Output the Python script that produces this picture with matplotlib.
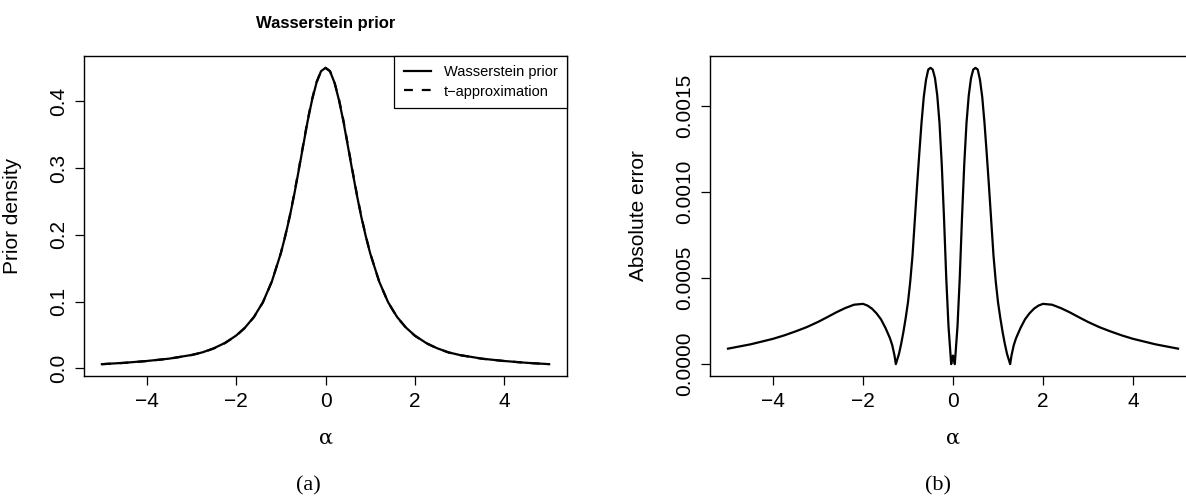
import matplotlib
matplotlib.use("Agg")
import matplotlib.pyplot as plt

# values
alpha_pts = [-5.0, -4.5, -4.0, -3.5, -3.0, -2.75, -2.5, -2.25, -2.0, -1.8, -1.6, -1.4, -1.2,
             -1.0, -0.9, -0.8, -0.7, -0.6, -0.5, -0.4, -0.3, -0.2, -0.1, 0.0,
             0.1, 0.2, 0.3, 0.4, 0.5, 0.6, 0.7, 0.8, 0.9, 1.0,
             1.2, 1.4, 1.6, 1.8, 2.0, 2.25, 2.5, 2.75, 3.0, 3.5, 4.0, 4.5, 5.0]
wasserstein_prior = [0.0063, 0.0083, 0.011, 0.0145, 0.020, 0.024, 0.030, 0.038, 0.049, 0.061, 0.077, 0.099, 0.130,
                     0.172, 0.198, 0.227, 0.260, 0.296, 0.333, 0.370, 0.402, 0.428, 0.445, 0.450,
                     0.445, 0.428, 0.402, 0.370, 0.333, 0.296, 0.260, 0.227, 0.198, 0.172,
                     0.130, 0.099, 0.077, 0.061, 0.049, 0.038, 0.030, 0.024, 0.020, 0.0145, 0.011, 0.0083, 0.0063]
t_approx = [0.0062, 0.0082, 0.0109, 0.0144, 0.0198, 0.0238, 0.0297, 0.0377, 0.0487, 0.0607, 0.0767, 0.0988, 0.1300,
            0.1723, 0.1986, 0.2280, 0.2614, 0.2975, 0.3347, 0.3716, 0.4034, 0.4288, 0.4451, 0.4500,
            0.4451, 0.4288, 0.4034, 0.3716, 0.3347, 0.2975, 0.2614, 0.2280, 0.1986, 0.1723,
            0.1300, 0.0988, 0.0767, 0.0607, 0.0487, 0.0377, 0.0297, 0.0238, 0.0198, 0.0144, 0.0109, 0.0082, 0.0062]

err_alpha = [-5.0, -4.5, -4.0, -3.75, -3.5, -3.25, -3.0, -2.8, -2.6, -2.4, -2.2, -2.0,
             -1.9, -1.8, -1.7, -1.6, -1.5, -1.4, -1.35, -1.3, -1.27,
             -1.2, -1.15, -1.1, -1.05, -1.0, -0.95, -0.9, -0.85, -0.8, -0.75, -0.7, -0.65, -0.6, -0.55, -0.5,
             -0.45, -0.4, -0.35, -0.3, -0.25, -0.2, -0.15, -0.1, -0.04, -0.02, 0.0,
             0.02, 0.04, 0.1, 0.15, 0.2, 0.25, 0.3, 0.35, 0.4, 0.45,
             0.5, 0.55, 0.6, 0.65, 0.7, 0.75, 0.8, 0.85, 0.9, 0.95, 1.0, 1.05, 1.1, 1.15, 1.2,
             1.27, 1.3, 1.35, 1.4, 1.5, 1.6, 1.7, 1.8, 1.9,
             2.0, 2.2, 2.4, 2.6, 2.8, 3.0, 3.25, 3.5, 3.75, 4.0, 4.5, 5.0]
abs_error = [0.00009, 0.000115, 0.000147, 0.000167, 0.00019, 0.000215, 0.000245, 0.000272, 0.0003, 0.000325,
             0.000345, 0.00035,
             0.00034, 0.000322, 0.000295, 0.00026, 0.00021, 0.00015, 0.00011, 0.00005, 0.0,
             0.00006, 0.00012, 0.00019, 0.00027, 0.00036, 0.00048, 0.00063, 0.00083, 0.00103, 0.00122, 0.0014,
             0.00155, 0.00165, 0.00171, 0.00172,
             0.00171, 0.00166, 0.00156, 0.0014, 0.00116, 0.00085, 0.0005, 0.00022, 0.0, 0.00003, 0.00005,
             0.00003, 0.0, 0.00022, 0.0005, 0.00085, 0.00116, 0.0014, 0.00156, 0.00166, 0.00171,
             0.00172, 0.00171, 0.00165, 0.00155, 0.0014, 0.00122, 0.00103, 0.00083, 0.00063, 0.00048,
             0.00036, 0.00027, 0.00019, 0.00012, 0.00006,
             0.0, 0.00005, 0.00011, 0.00015, 0.00021, 0.00026, 0.000295, 0.000322, 0.00034,
             0.00035, 0.000345, 0.000325, 0.0003, 0.000272, 0.000245, 0.000215, 0.00019, 0.000167, 0.000147,
             0.000115, 0.00009]

x_ticks = [-4, -2, 0, 2, 4]
x_tick_labels = ["\u22124", "\u22122", "0", "2", "4"]
prior_ticks = [0.0, 0.1, 0.2, 0.3, 0.4]
prior_tick_labels = ["0.0", "0.1", "0.2", "0.3", "0.4"]
err_ticks = [0.0, 0.0005, 0.0010, 0.0015]
err_tick_labels = ["0.0000", "0.0005", "0.0010", "0.0015"]

plt.rcParams["font.family"] = ["Liberation Sans", "DejaVu Sans"]


def r_limits(values):
    # R style 4% padding on the data range
    lo, hi = min(values), max(values)
    pad = 0.04 * (hi - lo)
    return lo - pad, hi + pad


def style_axes(ax):
    for s in ax.spines.values():
        s.set_linewidth(1.0)
    ax.tick_params(direction="out", length=6.5, width=0.9, labelsize=15, pad=5)
    ax.set_xticks(x_ticks)
    ax.set_xticklabels(x_tick_labels)
    ax.set_xlim(r_limits(alpha_pts))
    ax.set_xlabel("\u03b1", fontsize=15, family="DejaVu Serif")
    ax.xaxis.set_label_coords(0.5, -0.165)


fig = plt.figure(figsize=(11.86, 4.98), dpi=100)

# panel (a)
ax1 = fig.add_axes([84 / 1186, 122 / 498, 483 / 1186, 320 / 498])
ax1.plot(alpha_pts, wasserstein_prior, color="black", lw=1.6, label="Wasserstein prior")
ax1.plot(alpha_pts, t_approx, color="black", lw=1.6, ls=(0, (4, 4)), label="t\u2212approximation")
style_axes(ax1)
ax1.set_ylim(r_limits(wasserstein_prior))
ax1.set_yticks(prior_ticks)
ax1.set_yticklabels(prior_tick_labels, rotation=90, va="center")
ax1.set_ylabel("Prior density", fontsize=15)
ax1.yaxis.set_label_coords(-0.128, 0.5)
ax1.set_title("Wasserstein prior", fontsize=12, fontweight="bold", pad=20)
leg = ax1.legend(loc="upper right", borderaxespad=0, fancybox=False, framealpha=1,
                 edgecolor="black", fontsize=10.5, handlelength=1.85, handletextpad=0.9,
                 borderpad=0.65, labelspacing=0.35)
leg.get_frame().set_linewidth(0.9)

# panel (b)
ax2 = fig.add_axes([710 / 1186, 122 / 498, 486 / 1186, 320 / 498])
ax2.plot(err_alpha, abs_error, color="black", lw=1.6)
style_axes(ax2)
ax2.set_ylim(r_limits(abs_error))
ax2.set_yticks(err_ticks)
ax2.set_yticklabels(err_tick_labels, rotation=90, va="center")
ax2.set_ylabel("Absolute error", fontsize=15)
ax2.yaxis.set_label_coords(-0.128, 0.5)

fig.text(308 / 1186, 1 - 486 / 498, "(a)", ha="center", va="center",
         fontsize=16, family="Liberation Serif")
fig.text(938 / 1186, 1 - 486 / 498, "(b)", ha="center", va="center",
         fontsize=16, family="Liberation Serif")

fig.savefig("out.png", dpi=100)
plt.close(fig)
